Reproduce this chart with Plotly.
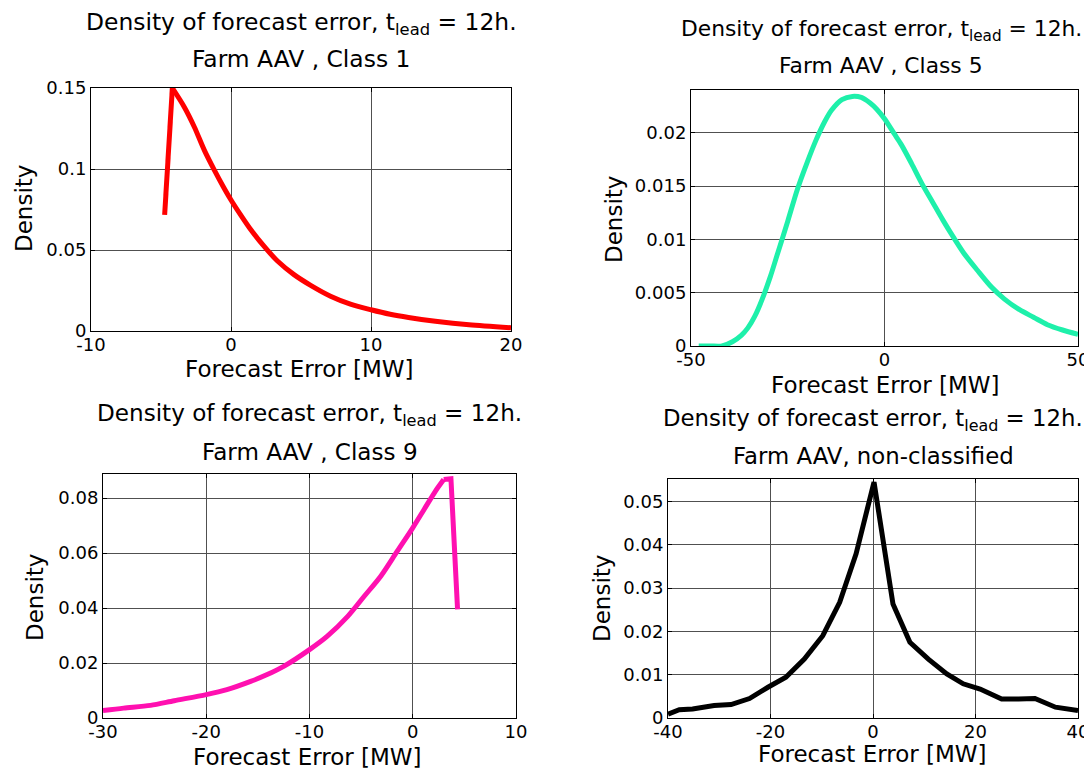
import plotly.graph_objects as go

# ---------------- data ----------------
# Class 1: steep rise then smooth decay
c1_rise_x = [-4.74, -4.19]
c1_rise_y = [0.0717, 0.150]
c1_x = [-4.19, -3.32, -2.61, -1.90, -1.19, -0.59, 0.0, 0.71, 1.42, 2.37, 3.32, 4.5,
        5.69, 7.11, 8.53, 10.0, 11.37, 12.68, 14.6, 17.0, 20.0]
c1_y = [0.150, 0.138, 0.1258, 0.1115, 0.0993, 0.0897, 0.0809, 0.0714, 0.0625, 0.0522,
        0.0432, 0.0348, 0.0282, 0.0215, 0.0166, 0.0131, 0.0103, 0.0083, 0.0060, 0.0038,
        0.0020]

# Class 5: smooth, skewed bell
c5_x = [-48, -45, -42, -39.3, -37, -35.3, -33.5, -31.7, -29.5, -27.6, -25, -22.5, -20,
        -17.7, -15.5, -13.7, -11, -8.3, -6, -3.8, -2, 0, 2.5, 4.3, 7, 9.7, 12.4, 15.1,
        17.8, 20.5, 24, 27.7, 31, 34.9, 38.5, 42.1, 46, 50]
c5_y = [0.0, 0.0, 0.0, 0.0004, 0.0010, 0.0017, 0.0028, 0.0043, 0.0065, 0.0087, 0.0117,
        0.0147, 0.0172, 0.0193, 0.0210, 0.0221, 0.0231, 0.0234, 0.0233, 0.0228, 0.0222,
        0.0213, 0.0199, 0.0189, 0.0171, 0.0152, 0.0135, 0.0118, 0.0102, 0.0087, 0.0071,
        0.0055, 0.0044, 0.0034, 0.0027, 0.0020, 0.0015, 0.0011]

# Class 9: smooth rise, flat top, sharp drop
c9_x = [-30, -28, -25.4, -23.1, -20, -18, -15.7, -14.1, -12.5, -10, -8.3, -6.3, -4.7,
        -3.1, -1.5, 0, 1.1, 2.2, 3.0]
c9_y = [0.0027, 0.0036, 0.0046, 0.0063, 0.0085, 0.0103, 0.0133, 0.0158, 0.0188, 0.0249,
        0.0297, 0.0370, 0.0443, 0.0516, 0.0607, 0.0692, 0.0759, 0.0826, 0.0868]
c9_drop_x = [3.0, 3.7, 4.34]
c9_drop_y = [0.0868, 0.0871, 0.0395]

# non-classified: polyline
nc_x = [-40, -37.8, -35.2, -31.0, -27.7, -24.1, -20.5, -17.0, -13.4, -9.8, -6.5, -3.3,
        0.2, 3.9, 7.2, 10.8, 14.4, 17.6, 20.9, 25.1, 28.4, 31.6, 35.6, 40]
nc_y = [0.0009, 0.0019, 0.0021, 0.0029, 0.0031, 0.0045, 0.0071, 0.0094, 0.0136, 0.0190,
        0.0267, 0.0379, 0.0545, 0.0263, 0.0175, 0.0136, 0.0102, 0.0079, 0.0067, 0.0044,
        0.0044, 0.0045, 0.0025, 0.0017]

titles1 = ["Density of forecast error, t<sub>lead</sub> = 12h."] * 4
titles2 = ["Farm AAV , Class 1", "Farm AAV , Class 5", "Farm AAV , Class 9",
           "Farm AAV, non-classified"]
xlabel = "Forecast Error [MW]"
ylabel = "Density"

xticks = [[-10, 0, 10, 20], [-50, 0, 50], [-30, -20, -10, 0, 10], [-40, -20, 0, 20, 40]]
xticktext = [["-10", "0", "10", "20"], ["-50", "0", "50"],
             ["-30", "-20", "-10", "0", "10"], ["-40", "-20", "0", "20", "40"]]
yticks = [[0, 0.05, 0.1, 0.15], [0, 0.005, 0.01, 0.015, 0.02],
          [0, 0.02, 0.04, 0.06, 0.08], [0, 0.01, 0.02, 0.03, 0.04, 0.05]]
yticktext = [["0", "0.05", "0.1", "0.15"], ["0", "0.005", "0.01", "0.015", "0.02"],
             ["0", "0.02", "0.04", "0.06", "0.08"], ["0", "0.01", "0.02", "0.03", "0.04", "0.05"]]
xranges = [[-10, 20], [-50, 50], [-30, 10], [-40, 40]]
yranges = [[0, 0.15], [0, 0.024], [0, 0.0888], [0, 0.0552]]

# traces: (x, y, panel, colour, shape)
traces = [
    (c1_rise_x, c1_rise_y, 0, "#FF0000", "linear"),
    (c1_x, c1_y, 0, "#FF0000", "spline"),
    (c5_x, c5_y, 1, "#1EF0AA", "spline"),
    (c9_x, c9_y, 2, "#FF10B0", "spline"),
    (c9_drop_x, c9_drop_y, 2, "#FF10B0", "linear"),
    (nc_x, nc_y, 3, "#000000", "linear"),
]

# ---------------- layout geometry (page pixels) ----------------
PAGE_W, PAGE_H = 1092, 769
OFF = 8  # default body margin of the page
W, H = PAGE_W - OFF, PAGE_H - OFF
# axes boxes: left, right, top, bottom (page pixels)
boxes = [(91, 511, 88, 331), (691, 1078, 90, 346), (103, 516, 474, 718), (668, 1078, 479, 718)]
title_size = [23.4, 21.8, 23.1, 22.8]
title_cx = [301, 881, 309.5, 873]
t1_y = [24, 30, 415, 420]
t2_y = [59, 66, 452, 456]
xl_pos = [(299, 369), (885, 385), (307, 757), (872, 754)]
yl_pos = [(24, 209), (614, 220), (35, 598), (602, 599)]

FONT = "DejaVu Sans"


def px(x):
    return (x - OFF) / W


def py(y):
    return 1 - (y - OFF) / H


fig = go.Figure()
for xs, ys, p, col, shape in traces:
    sx = "" if p == 0 else str(p + 1)
    fig.add_trace(go.Scatter(x=xs, y=ys, mode="lines",
                             line=dict(color=col, width=5, shape=shape, smoothing=0.8),
                             xaxis="x" + sx, yaxis="y" + sx, hoverinfo="x+y"))

layout = dict(template="none", width=W, height=H, margin=dict(l=0, r=0, t=0, b=0, pad=0),
              paper_bgcolor="white", plot_bgcolor="white", showlegend=False,
              font=dict(family=FONT, color="black"))
annotations = []
for i in range(4):
    sx = "" if i == 0 else str(i + 1)
    l, r, t, b = boxes[i]
    common = dict(showline=True, linecolor="black", linewidth=1, mirror="ticks",
                  ticks="inside", ticklen=4, tickcolor="black", tickwidth=1, showgrid=True,
                  gridcolor="#505050", gridwidth=1, zeroline=False, automargin=False,
                  tickfont=dict(family=FONT, size=18, color="black"))
    layout["xaxis" + sx] = dict(domain=[px(l), px(r)], range=xranges[i],
                                tickmode="array", tickvals=xticks[i], ticktext=xticktext[i],
                                anchor="y" + sx, ticklabelstandoff=-3, **common)
    layout["yaxis" + sx] = dict(domain=[py(b), py(t)], range=yranges[i],
                                tickmode="array", tickvals=yticks[i], ticktext=yticktext[i],
                                anchor="x" + sx, ticklabelstandoff=0, **common)
    tf = dict(family=FONT, size=title_size[i], color="black")
    annotations.append(dict(text=titles1[i], x=px(title_cx[i]), y=py(t1_y[i]),
                            xref="paper", yref="paper",
                            xanchor="center", yanchor="middle", showarrow=False, font=tf))
    annotations.append(dict(text=titles2[i], x=px(title_cx[i]), y=py(t2_y[i]),
                            xref="paper", yref="paper",
                            xanchor="center", yanchor="middle", showarrow=False, font=tf))
    annotations.append(dict(text=xlabel, x=px(xl_pos[i][0]), y=py(xl_pos[i][1]),
                            xref="paper", yref="paper", xanchor="center", yanchor="middle",
                            showarrow=False, font=dict(family=FONT, size=23, color="black")))
    annotations.append(dict(text=ylabel, x=px(yl_pos[i][0]), y=py(yl_pos[i][1]),
                            xref="paper", yref="paper", xanchor="center", yanchor="middle",
                            textangle=-90, showarrow=False,
                            font=dict(family=FONT, size=23, color="black")))

layout["annotations"] = annotations
fig.update_layout(**layout)
fig.write_html("out.html")
